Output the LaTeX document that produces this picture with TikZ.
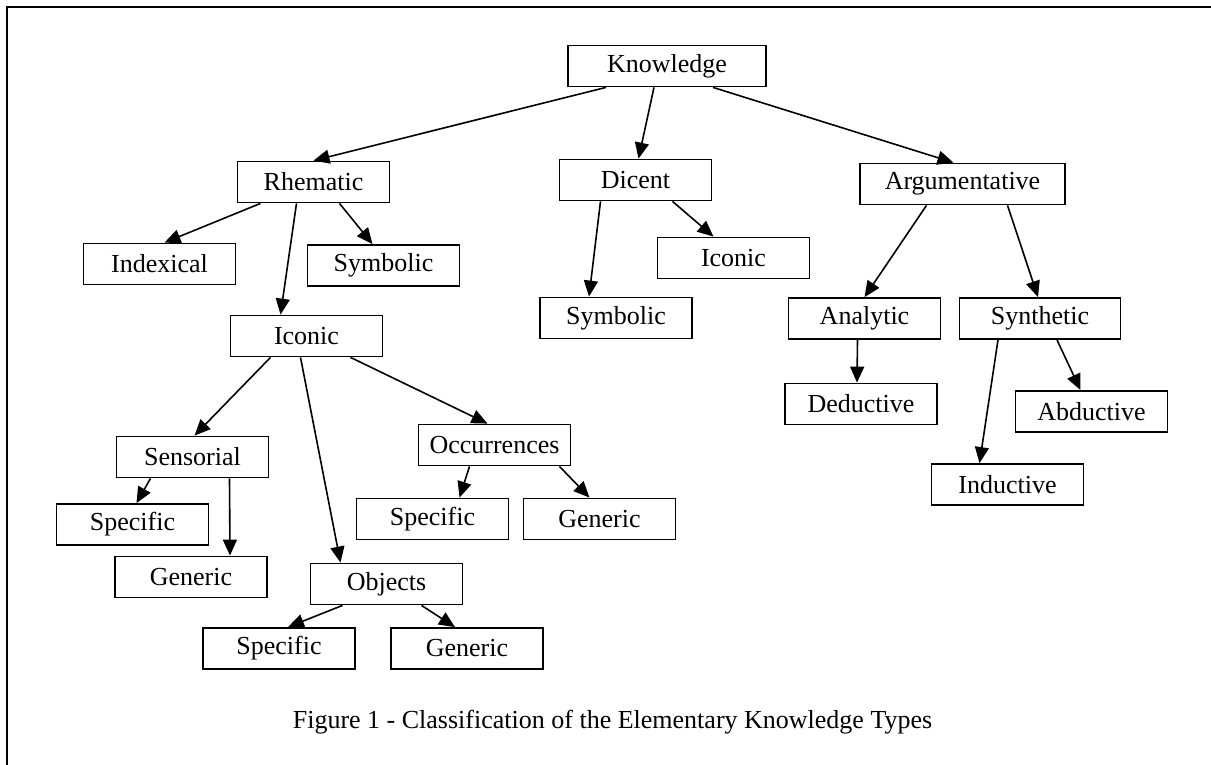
\documentclass[tikz,border=0pt]{standalone}
\usepackage{fontspec}
\setmainfont{Liberation Serif}
\usetikzlibrary{positioning,calc,arrows.meta}

\begin{document}
\begin{tikzpicture}[x=0.5pt, y=-0.5pt,
    box/.style={draw, line width=0.9pt, rectangle, minimum width=76pt, minimum height=20.5pt, inner sep=0pt, font=\fontsize{13}{15}\selectfont},
    arr/.style={line width=0.8pt, -{Triangle[length=8pt,width=7pt]}}]
    \useasboundingbox (0,0) rectangle (1211,765);
    \draw[line width=1.2pt] (7,765) -- (7,7) -- (1211,7);

    \node[box, minimum width=99pt] (know) at (667,66) {Knowledge};
    \node[box] (rhem) at (313.5,182) {Rhematic};
    \node[box] (dic) at (635.5,180) {Dicent};
    \node[box, minimum width=102.5pt] (arg) at (962.5,184) {Argumentative};

    \node[box] (idx) at (159.5,264) {Indexical};
    \node[box] (symR) at (383.5,265.5) {Symbolic};
    \node[box] (icoR) at (306.5,336) {Iconic};
    \node[box] (icoD) at (733.5,258) {Iconic};
    \node[box] (symD) at (616,318) {Symbolic};

    \node[box] (ana) at (864.5,318.5) {Analytic};
    \node[box, minimum width=80.5pt] (syn) at (1040,318.5) {Synthetic};
    \node[box] (ded) at (861,404) {Deductive};
    \node[box] (abd) at (1091.5,411.5) {Abductive};
    \node[box] (ind) at (1007.5,484.5) {Inductive};

    \node[box] (sens) at (192.5,457) {Sensorial};
    \node[box] (specS) at (132.5,524.5) {Specific};
    \node[box] (genS) at (191,577) {Generic};
    \node[box] (occ) at (494.5,445) {Occurrences};
    \node[box] (specO) at (432.5,519) {Specific};
    \node[box] (genO) at (599.5,519) {Generic};
    \node[box] (obj) at (386.5,584) {Objects};
    \node[box] (specOb) at (279,648.5) {Specific};
    \node[box] (genOb) at (467,648.5) {Generic};

    \node[anchor=base, font=\fontsize{13}{15}\selectfont] (cap) at (612.5,728) {Figure 1 - Classification of the Elementary Knowledge Types};

    \draw[arr] ($(know.south)+(-61,0)$) -- (rhem.north);
    \draw[arr] ($(know.south)+(-13,0)$) -- ($(dic.north)+(3,0)$);
    \draw[arr] ($(know.south)+(46,0)$) -- ($(arg.north)+(-9,0)$);

    \draw[arr] ($(rhem.south)+(-53,0)$) -- ($(idx.north)+(5,0)$);
    \draw[arr] ($(rhem.south)+(-17,0)$) -- ($(icoR.north)+(-26,0)$);
    \draw[arr] ($(rhem.south)+(26,0)$) -- ($(symR.north)+(-11,0)$);

    \draw[arr] ($(dic.south)+(-35,0)$) -- ($(symD.north)+(-27,0)$);
    \draw[arr] ($(dic.south)+(37,0)$) -- ($(icoD.north)+(-20,0)$);

    \draw[arr] ($(arg.south)+(-36,0)$) -- (ana.north);
    \draw[arr] ($(arg.south)+(45,0)$) -- ($(syn.north)+(-2,0)$);
    \draw[arr] ($(ana.south)+(-7,0)$) -- ($(ded.north)+(-4,0)$);
    \draw[arr] ($(syn.south)+(-42,0)$) -- ($(ind.north)+(-28,0)$);
    \draw[arr] ($(syn.south)+(17,0)$) -- ($(abd.north)+(-11,0)$);

    \draw[arr] ($(icoR.south)+(-36,0)$) -- ($(sens.north)+(2,0)$);
    \draw[arr] ($(icoR.south)+(-6,0)$) -- ($(obj.north)+(-46,0)$);
    \draw[arr] ($(icoR.south)+(44,0)$) -- ($(occ.north)+(-7,0)$);

    \draw[arr] ($(sens.south)+(-42,0)$) -- ($(specS.north)+(4,0)$);
    \draw[arr] ($(sens.south)+(37,0)$) -- ($(genS.north)+(39,0)$);
    \draw[arr] ($(occ.south)+(-25,0)$) -- ($(specO.north)+(27,0)$);
    \draw[arr] ($(occ.south)+(65,0)$) -- ($(genO.north)+(-10,0)$);
    \draw[arr] ($(obj.south)+(-44,0)$) -- ($(specOb.north)+(9,0)$);
    \draw[arr] ($(obj.south)+(35,0)$) -- ($(genOb.north)+(-12,0)$);
\end{tikzpicture}
\end{document}
